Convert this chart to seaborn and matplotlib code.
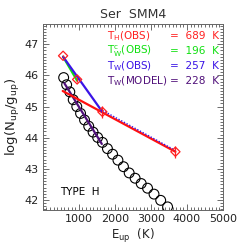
import matplotlib
matplotlib.use("Agg")
import matplotlib.pyplot as plt
import seaborn as sns
import pandas as pd
import numpy as np
from matplotlib.ticker import MultipleLocator, FixedLocator

# ---- data ----
model_E = [581, 664, 752, 846, 945, 1050, 1160, 1276, 1397, 1524, 1657,
           1795, 1938, 2086, 2240, 2398, 2563, 2732, 2907, 3087, 3272, 3463]
model_logN = [45.93, 45.70, 45.47, 45.22, 45.00, 44.78, 44.57, 44.37, 44.18,
              44.01, 43.85, 43.65, 43.47, 43.28, 43.07, 42.87, 42.70, 42.53,
              42.38, 42.19, 41.99, 41.78]

obs_E = [565, 955, 1655, 3680]
obs_logN = [46.63, 45.87, 44.83, 43.55]
obs_err = [0.03, 0.08, 0.19, 0.20]

fit_hot_E = [555, 3680]
fit_hot_logN = [45.50, 43.55]
fit_warmc_E = [565, 955]
fit_warmc_logN = [46.60, 45.83]
fit_warm_E = [565, 1655]
fit_warm_logN = [46.60, 44.83]
fit_warm_ext_E = [1655, 3680]
fit_warm_ext_logN = [44.88, 43.59]
fit_model_E = [600, 1640]
fit_model_logN = [45.75, 43.80]

x_ticks = [1000, 2000, 3000, 4000, 5000]
y_ticks = [42, 43, 44, 45, 46, 47]

labels_left = [r"T$_\mathregular{H}$(OBS)", r"T$_\mathregular{W}^\mathregular{c}$(OBS)",
               r"T$_\mathregular{W}$(OBS)", r"T$_\mathregular{W}$(MODEL)"]
labels_right = ["=  689  K", "=  196  K", "=  257  K", "=  228  K"]
label_colors = ["#ff2020", "#10e010", "#3a14e6", "#50107a"]

# ---- figure ----
sns.set_style("ticks")
plt.rcParams["font.family"] = ["DejaVu Sans"]
plt.rcParams["mathtext.fontset"] = "dejavusans"

fig = plt.figure(figsize=(2.49, 2.49), dpi=100)
ax = fig.add_axes([0.1715, 0.1566, 0.7241, 0.7470])

sns.scatterplot(x=model_E, y=model_logN, ax=ax, marker="o", s=50,
                facecolors="none", edgecolor="black", linewidth=0.8, zorder=2)

sns.lineplot(x=fit_model_E, y=fit_model_logN, ax=ax, color="#50107a", lw=1.6, zorder=3)
sns.lineplot(x=fit_hot_E, y=fit_hot_logN, ax=ax, color="#ff1010", lw=1.6, zorder=3)
sns.lineplot(x=fit_warm_ext_E, y=fit_warm_ext_logN, ax=ax, color="#3a14e6", lw=1.0,
             linestyle=(0, (1, 1.2)), zorder=4)
sns.lineplot(x=fit_warmc_E, y=fit_warmc_logN, ax=ax, color="#10e010", lw=1.6, zorder=3)
sns.lineplot(x=fit_warm_E, y=fit_warm_logN, ax=ax, color="#3a14e6", lw=1.6, zorder=4)

ax.errorbar(obs_E, obs_logN, yerr=obs_err, fmt="none", ecolor="#ff2020",
            elinewidth=0.9, capsize=0, zorder=5)
sns.scatterplot(x=obs_E, y=obs_logN, ax=ax, marker="D", s=22,
                facecolors="none", edgecolor="#ff2020", linewidth=0.9, zorder=6)

ax.set_xlim(0, 5000)
ax.set_ylim(41.68, 47.65)
ax.xaxis.set_major_locator(FixedLocator(x_ticks))
ax.yaxis.set_major_locator(FixedLocator(y_ticks))
ax.xaxis.set_minor_locator(MultipleLocator(100))
ax.yaxis.set_minor_locator(MultipleLocator(0.1))
ax.tick_params(which="both", direction="in", top=True, right=True,
               color="#555555", width=0.6)
ax.tick_params(which="major", length=4, labelsize=8, labelcolor="#222222", pad=3)
ax.tick_params(which="minor", length=2)
for s in ax.spines.values():
    s.set_linewidth(0.7)
    s.set_color("#666666")

ax.set_xlabel(r"E$_\mathregular{up}$  (K)", fontsize=8.5, color="#222222", labelpad=2)
ax.set_ylabel(r"log(N$_\mathregular{up}$/g$_\mathregular{up}$)", fontsize=9.5,
              color="#222222", labelpad=2)
ax.set_title("Ser  SMM4", fontsize=9, color="#333333", pad=4)

ys = [0.935, 0.855, 0.774, 0.694]
for lt, rt, c, y in zip(labels_left, labels_right, label_colors, ys):
    ax.text(0.355, y, lt, transform=ax.transAxes, color=c, fontsize=7.5,
            va="center", ha="left")
    ax.text(0.705, y, rt, transform=ax.transAxes, color=c, fontsize=7.6,
            va="center", ha="left")

ax.text(0.095, 0.095, "TYPE  H", transform=ax.transAxes, fontsize=7.5,
        color="black", va="center", ha="left")

fig.savefig("out.png", dpi=100)
